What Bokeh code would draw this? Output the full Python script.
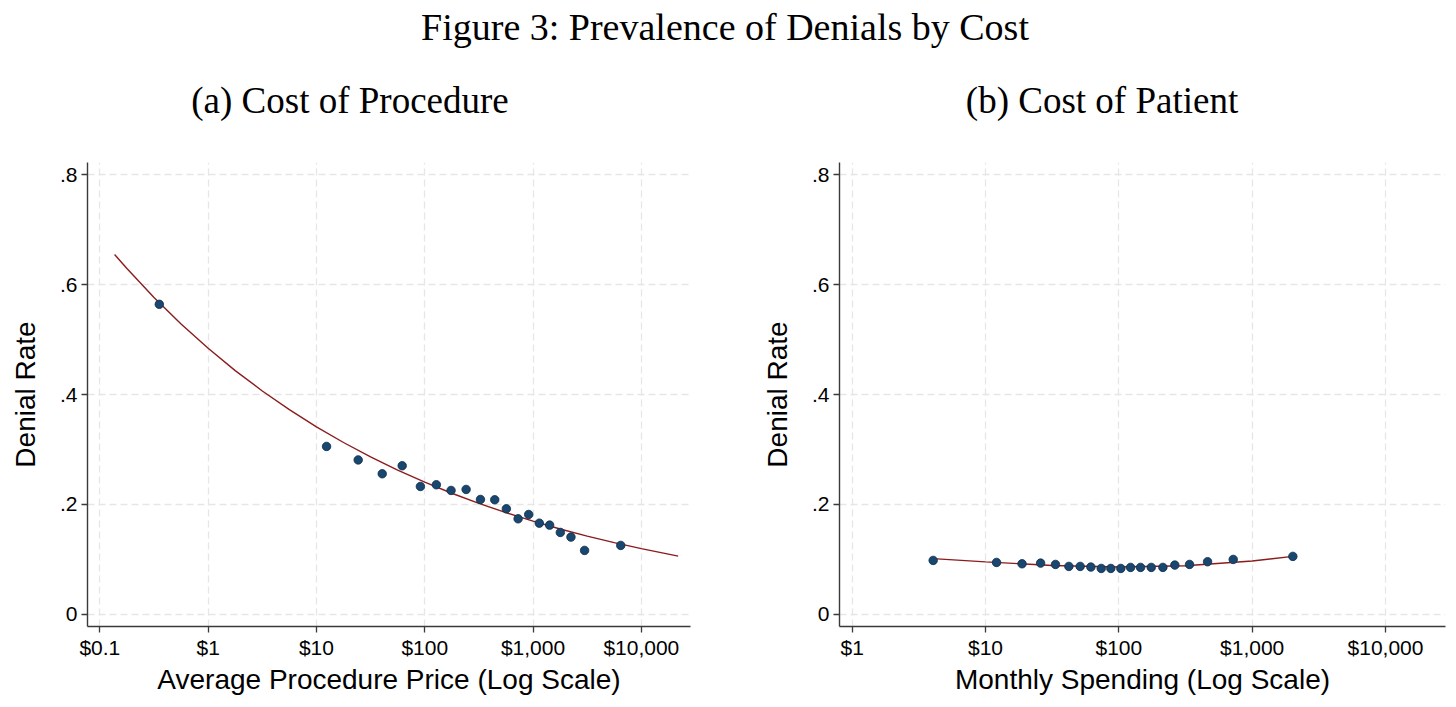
from bokeh.plotting import figure
from bokeh.layouts import column, row
from bokeh.models import Range1d, FixedTicker
from bokeh.embed import file_html
from bokeh.resources import INLINE
from bokeh.core.properties import value

# ---------------- data ----------------
fig_title = "Figure 3: Prevalence of Denials by Cost"
title_a = "(a) Cost of Procedure"
title_b = "(b) Cost of Patient"
xlabel_a = "Average Procedure Price (Log Scale)"
xlabel_b = "Monthly Spending (Log Scale)"
ylabel = "Denial Rate"

# Panel (a): binned scatter
proc_price = [0.354, 12.4, 24.3, 40.5, 61.9, 91.2, 128, 175, 241, 327, 443, 567,
              728, 912, 1143, 1423, 1786, 2240, 2992, 6457]
proc_denial = [0.564, 0.3055, 0.281, 0.2558, 0.2704, 0.2327, 0.2358, 0.2255, 0.2273,
               0.2091, 0.2085, 0.1921, 0.1739, 0.1818, 0.166, 0.1624, 0.1491, 0.1406,
               0.1164, 0.1255]
# Panel (a): fitted curve (at quarter-decade steps)
proc_fit_x = [0.1368, 0.1778, 0.3162, 0.5623, 1, 1.778, 3.162, 5.623, 10, 17.78, 31.62,
              56.23, 100, 177.8, 316.2, 562.3, 1000, 1778, 3162, 5623, 10000, 17783, 21878]
proc_fit_y = [0.6547, 0.6291, 0.5764, 0.5282, 0.484, 0.4435, 0.4064, 0.3724, 0.3412,
              0.3127, 0.2865, 0.2625, 0.2406, 0.2204, 0.2020, 0.1851, 0.1696, 0.1554,
              0.1424, 0.1305, 0.1196, 0.1096, 0.1060]

# Panel (b): binned scatter
spend = [4.05, 12.1, 18.8, 25.9, 33.5, 42.2, 51.3, 61.7, 73.8, 87.1, 103.5, 122.5,
         145.5, 175, 214, 263, 339, 463, 721, 2019]
spend_denial = [0.0982, 0.0945, 0.0921, 0.0933, 0.0909, 0.0873, 0.0873, 0.0861, 0.0836,
                0.0836, 0.0836, 0.0855, 0.0855, 0.0855, 0.0855, 0.0897, 0.0909, 0.0958,
                0.1000, 0.1055]
# Panel (b): fitted curve
spend_fit_x = [4.05, 10, 31.6, 100, 316, 1000, 2019]
spend_fit_y = [0.1015, 0.0955, 0.0890, 0.0862, 0.0885, 0.0972, 0.1055]

y_ticks = [0, 0.2, 0.4, 0.6, 0.8]
y_tick_labels = ["0", ".2", ".4", ".6", ".8"]
x_ticks_a = [0.1, 1, 10, 100, 1000, 10000]
x_tick_labels_a = ["$0.1", "$1", "$10", "$100", "$1,000", "$10,000"]
x_ticks_b = [1, 10, 100, 1000, 10000]
x_tick_labels_b = ["$1", "$10", "$100", "$1,000", "$10,000"]

# ---------------- style ----------------
SANS = "Liberation Sans"
SERIF = "Liberation Serif"
AXIS_COLOR = "#3a3a3a"
GRID_COLOR = "#e6e6e6"
LINE_COLOR = "#8b1c1c"
DOT_FILL = "#1a476f"
DOT_LINE = "#0e2c4a"


def make_panel(xs, ys, fx, fy, xr, ticks, tick_labels, xlabel, width, bl, br):
    p = figure(width=width, height=551, x_axis_type="log",
               x_range=Range1d(*xr), y_range=Range1d(-0.022, 0.822),
               toolbar_location=None, output_backend="svg",
               min_border_left=bl, min_border_right=br,
               min_border_top=13, min_border_bottom=74)
    p.outline_line_color = None
    for g in (p.xgrid[0], p.ygrid[0]):
        g.grid_line_color = GRID_COLOR
        g.grid_line_dash = "7 4"
        g.grid_line_width = 1.3
    p.line(fx, fy, line_color=LINE_COLOR, line_width=1.4)
    p.scatter(xs, ys, size=8.5, fill_color=DOT_FILL, line_color=DOT_LINE, line_width=0.8)

    p.xaxis.ticker = FixedTicker(ticks=ticks)
    p.xaxis.major_label_overrides = {t: l for t, l in zip(ticks, tick_labels)}
    p.yaxis.ticker = FixedTicker(ticks=y_ticks)
    p.yaxis.major_label_overrides = {t: l for t, l in zip(y_ticks, y_tick_labels)}
    p.xaxis.axis_label = xlabel
    p.yaxis.axis_label = ylabel
    for ax in (p.xaxis[0], p.yaxis[0]):
        ax.axis_line_color = AXIS_COLOR
        ax.axis_line_width = 1.4
        ax.major_tick_line_color = AXIS_COLOR
        ax.major_tick_line_width = 1.3
        ax.major_tick_in = 0
        ax.major_tick_out = 6
        ax.minor_tick_line_color = None
        ax.major_label_text_font = SANS
        ax.major_label_text_font_size = "21px"
        ax.major_label_text_color = "black"
        ax.major_label_standoff = 4
        ax.axis_label_text_font = SANS
        ax.axis_label_text_font_size = "28px"
        ax.axis_label_text_font_style = "normal"
        ax.axis_label_text_color = "black"
    p.xaxis.major_label_standoff = 3
    p.xaxis.axis_label_standoff = 2
    p.yaxis.axis_label_standoff = 16
    return p


pa = make_panel(proc_price, proc_denial, proc_fit_x, proc_fit_y,
                (10 ** -1.114, 10 ** 4.454), x_ticks_a, x_tick_labels_a, xlabel_a,
                720, 87, 30)
pb = make_panel(spend, spend_denial, spend_fit_x, spend_fit_y,
                (10 ** -0.095, 10 ** 4.45), x_ticks_b, x_tick_labels_b, xlabel_b,
                728, 119, 3)

header = figure(width=1448, height=149, x_range=Range1d(0, 1448), y_range=Range1d(0, 149),
                toolbar_location=None, output_backend="svg", min_border=0,
                x_axis_location=None, y_axis_location=None)
header.grid.visible = False
header.outline_line_color = None
header.text(x=[724.5], y=[123], text=[fig_title], text_font=value(SERIF),
            text_font_size="38px", text_align="center", text_baseline="middle",
            text_color="black")
header.text(x=[349.5, 1101.5], y=[49, 49], text=[title_a, title_b], text_font=value(SERIF),
            text_font_size="37px", text_align="center", text_baseline="middle",
            text_color="black")

layout = column(header, row(pa, pb))
open("out.html", "w").write(file_html(layout, INLINE))
